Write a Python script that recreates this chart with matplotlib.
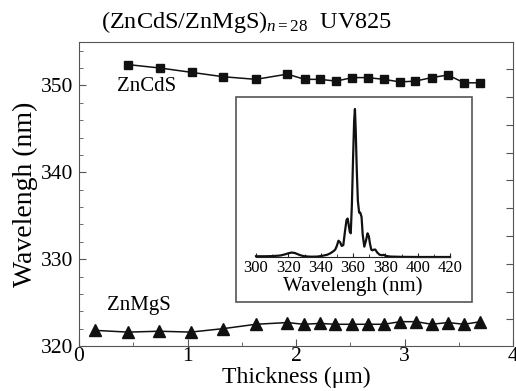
import numpy as np
import matplotlib
matplotlib.use("Agg")
import matplotlib.pyplot as plt
from matplotlib.patches import Rectangle
from matplotlib.ticker import MultipleLocator

plt.rcParams['font.family'] = ['Liberation Serif', 'DejaVu Serif']
plt.rcParams['mathtext.fontset'] = 'custom'
plt.rcParams['mathtext.rm'] = 'Liberation Serif'
plt.rcParams['mathtext.it'] = 'Liberation Serif:italic'

# Emission peak position versus layer thickness
thick_cds = [0.45, 0.75, 1.04, 1.33, 1.63, 1.92, 2.08, 2.22, 2.37, 2.52, 2.66,
             2.81, 2.96, 3.10, 3.25, 3.40, 3.55, 3.70]
wl_cds = [352.4, 352.0, 351.5, 351.0, 350.7, 351.3, 350.7, 350.7, 350.5, 350.9,
          350.9, 350.7, 350.4, 350.5, 350.9, 351.2, 350.3, 350.3]

thick_mgs = [0.15, 0.45, 0.74, 1.03, 1.33, 1.63, 1.92, 2.07, 2.22, 2.36, 2.52,
             2.66, 2.81, 2.96, 3.11, 3.25, 3.40, 3.55, 3.70]
wl_mgs = [321.8, 321.6, 321.7, 321.6, 322.0, 322.5, 322.7, 322.5, 322.6, 322.5,
          322.5, 322.5, 322.5, 322.8, 322.8, 322.5, 322.7, 322.5, 322.8]

# Normalised emission spectrum (inset)
spec_wl = [300, 305, 310, 315, 318, 320, 322, 324, 326, 328, 330, 334, 338, 341,
           344, 346, 348, 349, 350, 351, 352, 353, 354, 355, 356, 356.7, 357.3,
           358, 358.6, 359.3, 360, 360.7, 361.2, 361.7, 362.3, 363, 363.8, 364.5,
           365.3, 366, 367, 368, 369, 369.8, 370.5, 371.3, 372, 373, 373.8, 375,
           376.5, 378, 379, 380, 383, 390, 400, 410, 420]
spec_int = [0.005, 0.005, 0.006, 0.01, 0.018, 0.025, 0.03, 0.027, 0.018, 0.01,
            0.005, 0.002, 0.003, 0.008, 0.015, 0.025, 0.04, 0.05, 0.075, 0.11,
            0.10, 0.075, 0.08, 0.17, 0.25, 0.26, 0.22, 0.17, 0.16, 0.35, 0.65,
            0.92, 1.0, 0.85, 0.6, 0.38, 0.30, 0.30, 0.27, 0.15, 0.07, 0.11, 0.16,
            0.14, 0.09, 0.05, 0.045, 0.05, 0.05, 0.03, 0.015, 0.012, 0.015, 0.008,
            0.003, 0.001, 0.0, 0.0, 0.0]

spine_col = '#555555'

fig = plt.figure(figsize=(5.16, 3.91), dpi=100)
ax = fig.add_axes([79 / 516, 45 / 391, 434 / 516, 304 / 391])

ax.plot(thick_cds, wl_cds, color='#111111', lw=1.1, marker='s', ms=6)
ax.plot(thick_mgs, wl_mgs, color='#111111', lw=1.1, marker='^', ms=8)

ax.set_xlim(0, 4)
ax.set_ylim(320, 355)
ax.xaxis.set_major_locator(MultipleLocator(1))
ax.xaxis.set_minor_locator(MultipleLocator(0.5))
ax.yaxis.set_major_locator(MultipleLocator(10))
ax.yaxis.set_minor_locator(MultipleLocator(2))
ax.tick_params(which='both', direction='in', top=False, right=False,
               color=spine_col, labelsize=15.5)
ax.tick_params(axis='x', pad=1)
ax.tick_params(axis='y', pad=4)
ax.tick_params(which='major', length=5)
ax.tick_params(which='minor', length=3)
for s in ax.spines.values():
    s.set_color(spine_col)

ax.set_xlabel('Thickness (μm)', fontsize=17, labelpad=0)
ax.set_ylabel('Wavelengh (nm)', fontsize=20, labelpad=2)
fig.text(247 / 516, 1 - 28 / 391, r'(ZnCdS/ZnMgS)$_{n\mathrm{=28}}$  UV825',
         fontsize=17.5, ha='center', va='baseline')

ax.text(0.35, 349.9, 'ZnCdS', fontsize=15, va='center', ha='left')
ax.text(0.26, 324.7, 'ZnMgS', fontsize=15, va='center', ha='left')

# unlabelled right-hand scale
rax = ax.twinx()
rax.set_ylim(320, 355)
rax.set_yticks(np.arange(323.07, 355, 3.2))
rax.tick_params(axis='y', direction='in', length=5, color=spine_col,
                labelright=False)
for s in rax.spines.values():
    s.set_visible(False)

# inset frame
fig.patches.append(Rectangle((236 / 516, (391 - 302) / 391), 236 / 516, 205 / 391,
                             transform=fig.transFigure, fill=True,
                             facecolor='white', edgecolor=spine_col, lw=1.2,
                             zorder=5))

ins = fig.add_axes([256 / 516, (391 - 257) / 391, 194 / 516, 148 / 391], zorder=6)
ins.patch.set_alpha(0)
ins.plot(spec_wl, spec_int, color='#111111', lw=1.6, clip_on=False)
ins.set_xlim(300, 420)
ins.set_ylim(0, 1.0)
ins.set_yticks([])
for side in ('left', 'right', 'top'):
    ins.spines[side].set_visible(False)
ins.spines['bottom'].set_color('#222222')
ins.xaxis.set_major_locator(MultipleLocator(20))
ins.xaxis.set_minor_locator(MultipleLocator(10))
ins.tick_params(which='both', direction='in', labelsize=12, pad=2,
                color='#222222')
ins.tick_params(which='major', length=3)
ins.tick_params(which='minor', length=2)
ins.set_xlabel('Wavelengh (nm)', fontsize=15, labelpad=0)

fig.savefig('out.png', dpi=100)
